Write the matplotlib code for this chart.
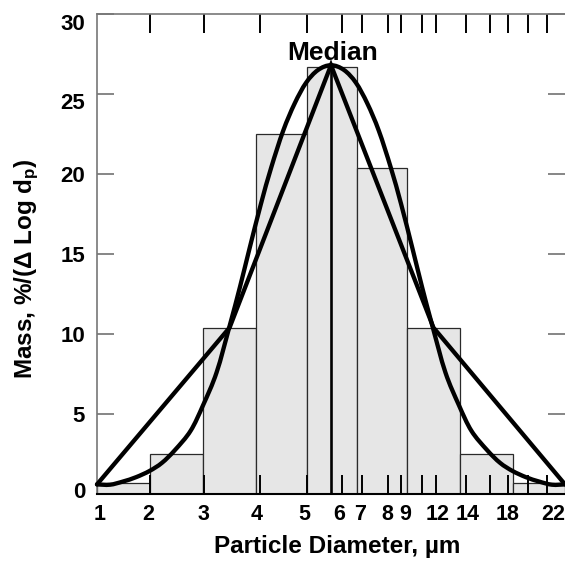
import matplotlib
matplotlib.use("Agg")
import matplotlib.pyplot as plt
import matplotlib.transforms as mtransforms
from matplotlib.path import Path
from matplotlib.patches import PathPatch

plt.rcParams['font.family'] = ['Liberation Sans', 'DejaVu Sans']
plt.rcParams['font.weight'] = 'bold'
plt.rcParams['mathtext.fontset'] = 'custom'
plt.rcParams['mathtext.rm'] = 'Liberation Sans:bold'
plt.rcParams['mathtext.it'] = 'Liberation Sans:bold'
plt.rcParams['mathtext.default'] = 'rm'

# ---- data (x in bin-position units of the drawn axis) ----
bin_edges = [0, 1.02, 2.04, 3.06, 4.03, 5.0, 5.97, 6.98, 8.0, 9.0]
bin_heights = [0.7, 2.5, 10.4, 22.5, 26.7, 20.4, 10.4, 2.5, 0.7]

median_x = 4.5
median_peak = 26.8

poly_x = [0, 2.55, 4.5, 6.47, 9.0]
poly_y = [0.6, 10.4, 26.8, 10.4, 0.6]

bell_x = [0.0, 0.25, 0.5, 0.75, 1.01, 1.25, 1.5, 1.8, 2.04, 2.3, 2.55, 2.75, 2.93,
          3.15, 3.35, 3.58, 3.8, 4.02, 4.25, 4.5,
          4.75, 4.98, 5.2, 5.42, 5.65, 5.85, 6.07, 6.25, 6.45, 6.7, 6.96, 7.2,
          7.5, 7.75, 7.99, 8.25, 8.5, 8.75, 9.0]
bell_y = [0.6, 0.58, 0.78, 1.05, 1.44, 1.95, 2.75, 3.95, 5.55, 7.6, 10.5, 12.95, 15.3,
          18.1, 20.4, 22.7, 24.4, 25.7, 26.5, 26.8,
          26.5, 25.7, 24.4, 22.7, 20.4, 18.1, 15.3, 12.95, 10.5, 7.6, 5.55, 3.95,
          2.75, 1.95, 1.44, 1.05, 0.78, 0.58, 0.6]

label_pos = [0.06, 0.976, 2.05, 3.07, 3.99, 4.65, 5.06, 5.585, 5.92, 6.56, 7.135, 7.90, 8.77]
label_txt = ['1', '2', '3', '4', '5', '6', '7', '8', '9', '12', '14', '18', '22']
tick_pos = [1.017, 2.050, 3.144, 4.035, 4.708, 5.094, 5.594, 5.846, 6.242, 6.510,
            7.096, 7.558, 7.904, 8.279, 8.663]
y_ticks = [0, 5, 10, 15, 20, 25, 30]


def smooth_path(xs, ys):
    """Cubic Bezier path (Catmull-Rom style) passing through the read points."""
    verts = [(xs[0], ys[0])]
    codes = [Path.MOVETO]
    n = len(xs)
    for i in range(n - 1):
        x0, y0 = (xs[i - 1], ys[i - 1]) if i > 0 else (xs[i], ys[i])
        x1, y1 = xs[i], ys[i]
        x2, y2 = xs[i + 1], ys[i + 1]
        x3, y3 = (xs[i + 2], ys[i + 2]) if i + 2 < n else (x2, y2)
        c1 = (x1 + (x2 - x0) / 6.0, y1 + (y2 - y0) / 6.0)
        c2 = (x2 - (x3 - x1) / 6.0, y2 - (y3 - y1) / 6.0)
        verts += [c1, c2, (x2, y2)]
        codes += [Path.CURVE4] * 3
    return Path(verts, codes)


# ---- figure ----
fig = plt.figure(figsize=(5.65, 5.62), dpi=100)
ax = fig.add_axes([97 / 565, 1 - 494 / 562, 468 / 565, 480 / 562])

lefts = bin_edges[:-1]
widths = [b - a for a, b in zip(bin_edges[:-1], bin_edges[1:])]
ax.bar(lefts, bin_heights, width=widths, align='edge', color='#e6e6e6',
       edgecolor='#2a2a2a', linewidth=0.9, zorder=1)

ax.add_patch(PathPatch(smooth_path(bell_x, bell_y), facecolor='none',
                       edgecolor='black', lw=3.1, capstyle='round',
                       joinstyle='round', zorder=3, clip_on=False))
ax.plot(poly_x, poly_y, color='black', lw=3.1, solid_joinstyle='miter',
        solid_capstyle='round', zorder=3, clip_on=False)
ax.plot([median_x, median_x], [0, median_peak], color='black', lw=1.9, zorder=3)

ax.text(4.54, 27.15, 'Median', ha='center', va='baseline', fontsize=19,
        fontweight='bold')

ax.set_xlim(0, 9)
ax.set_ylim(0, 30)

ax.xaxis.remove_overlapping_locs = False
ax.set_xticks(label_pos)
ax.set_xticklabels(label_txt)
ax.set_xticks(tick_pos, minor=True)
ax.tick_params(axis='x', which='major', length=0, pad=7, labelsize=15.5)
ax.tick_params(axis='x', which='minor', direction='in', length=13.7, width=1.4,
               color='black', top=True, bottom=True)

ax.set_yticks(y_ticks)
ax.tick_params(axis='y', which='major', direction='in', length=12.5, width=1.1,
               color='#666666', left=True, right=True, pad=8.5, labelsize=16)

for sp in ['left', 'top']:
    ax.spines[sp].set_color('#777777')
    ax.spines[sp].set_linewidth(1.2)
ax.spines['bottom'].set_color('black')
ax.spines['bottom'].set_linewidth(1.5)
ax.spines['right'].set_visible(False)

# hand-placed offsets of some y tick labels in the original
offsets = {30: -8, 25: -7, 0: 4}
for tick, val in zip(ax.yaxis.get_major_ticks(), y_ticks):
    if val in offsets:
        off = mtransforms.ScaledTranslation(0, offsets[val] / 100, fig.dpi_scale_trans)
        tick.label1.set_transform(tick.label1.get_transform() + off)

fig.text(337 / 565, 1 - 547 / 562, 'Particle Diameter, µm', ha='center',
         va='center', fontsize=17.5, fontweight='bold')
fig.text(27 / 565, 1 - 269 / 562, 'Mass, %/(Δ Log d$_p$)', ha='center',
         va='center', rotation=90, fontsize=17.5, fontweight='bold')

fig.savefig('out.png', dpi=100)
